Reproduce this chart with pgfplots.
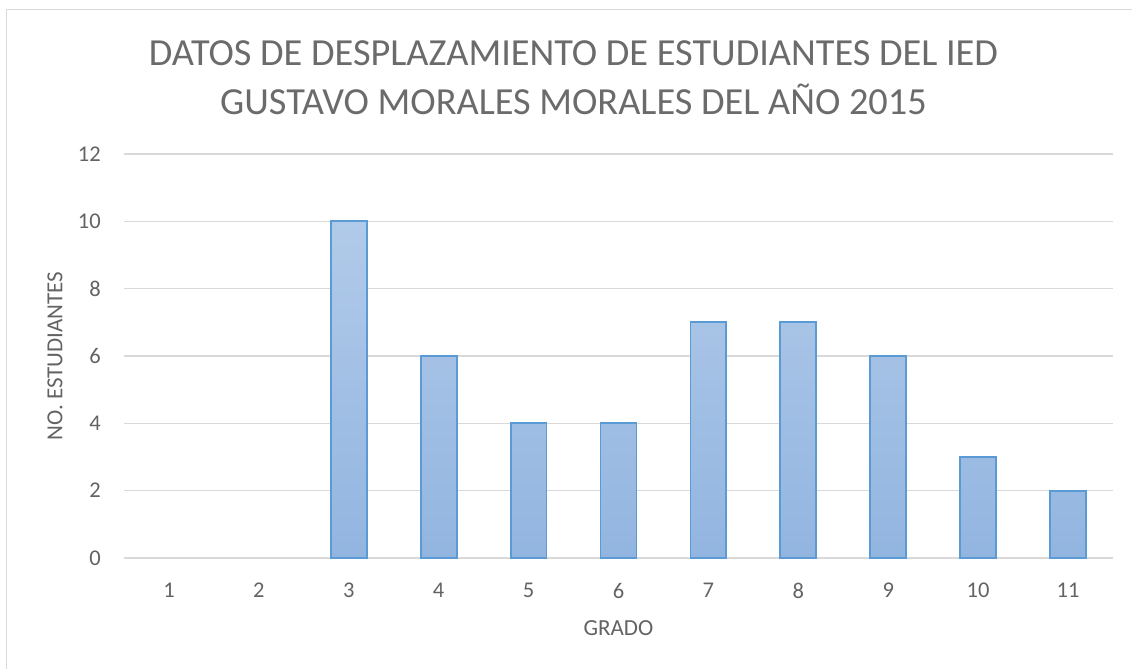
\documentclass[border=0pt]{standalone}
\usepackage{fontspec}
\setmainfont{Carlito}
\usepackage{pgfplots}
\pgfplotsset{compat=1.18}
\definecolor{txt}{HTML}{636363}
\definecolor{titc}{HTML}{6B6B6B}
\definecolor{gridc}{HTML}{D9D9D9}
\definecolor{barline}{HTML}{5B9BD5}
\definecolor{bartop}{HTML}{B1CAE9}
\definecolor{barbot}{HTML}{92B5E0}
\begin{document}
\begin{tikzpicture}
\useasboundingbox (0,0) rectangle (1132bp,669bp);
\draw[gridc, line width=1.5bp] (6.5bp,-5bp) -- (6.5bp,659.5bp) -- (1140bp,659.5bp);
\node[anchor=base, text=titc, font=\fontsize{38.3bp}{44bp}\selectfont, inner sep=0] at (573.5bp,603bp) {DATOS DE DESPLAZAMIENTO DE ESTUDIANTES DEL IED};
\node[anchor=base, text=titc, font=\fontsize{38.3bp}{44bp}\selectfont, inner sep=0] at (573.5bp,554bp) {GUSTAVO MORALES MORALES DEL AÑO 2015};
\begin{axis}[
  at={(124bp,111bp)}, anchor=south west,
  scale only axis, width=989bp, height=404bp,
  xmin=0.5, xmax=11.5, ymin=0, ymax=12,
  xtick={1,...,11}, ytick={0,2,...,12},
  major tick length=0pt,
  axis line style={draw=none},
  ymajorgrids, grid style={gridc, line width=1.2bp},
  tick label style={text=txt, font=\fontsize{22.5bp}{26bp}\selectfont, inner sep=0pt},
  /pgf/number format/assume math mode=true,
  yticklabel style={anchor=east, xshift=-23bp},
  xticklabel style={anchor=north, yshift=-25bp},
  label style={text=txt, font=\fontsize{23bp}{26bp}\selectfont, inner sep=0pt},
  xlabel={GRADO}, ylabel={NO. ESTUDIANTES},
  xlabel style={at={(axis description cs:0.5,-0.173)}, anchor=center},
  ylabel style={at={(axis description cs:-0.0698,0.5)}, anchor=center},
  clip=false,
]
\addplot[ybar, bar width=0.4, draw=barline, line width=1.8bp, top color=bartop, bottom color=barbot]
  coordinates {(3,10) (4,6) (5,4) (6,4) (7,7) (8,7) (9,6) (10,3) (11,2)};
\end{axis}
\end{tikzpicture}
\end{document}
